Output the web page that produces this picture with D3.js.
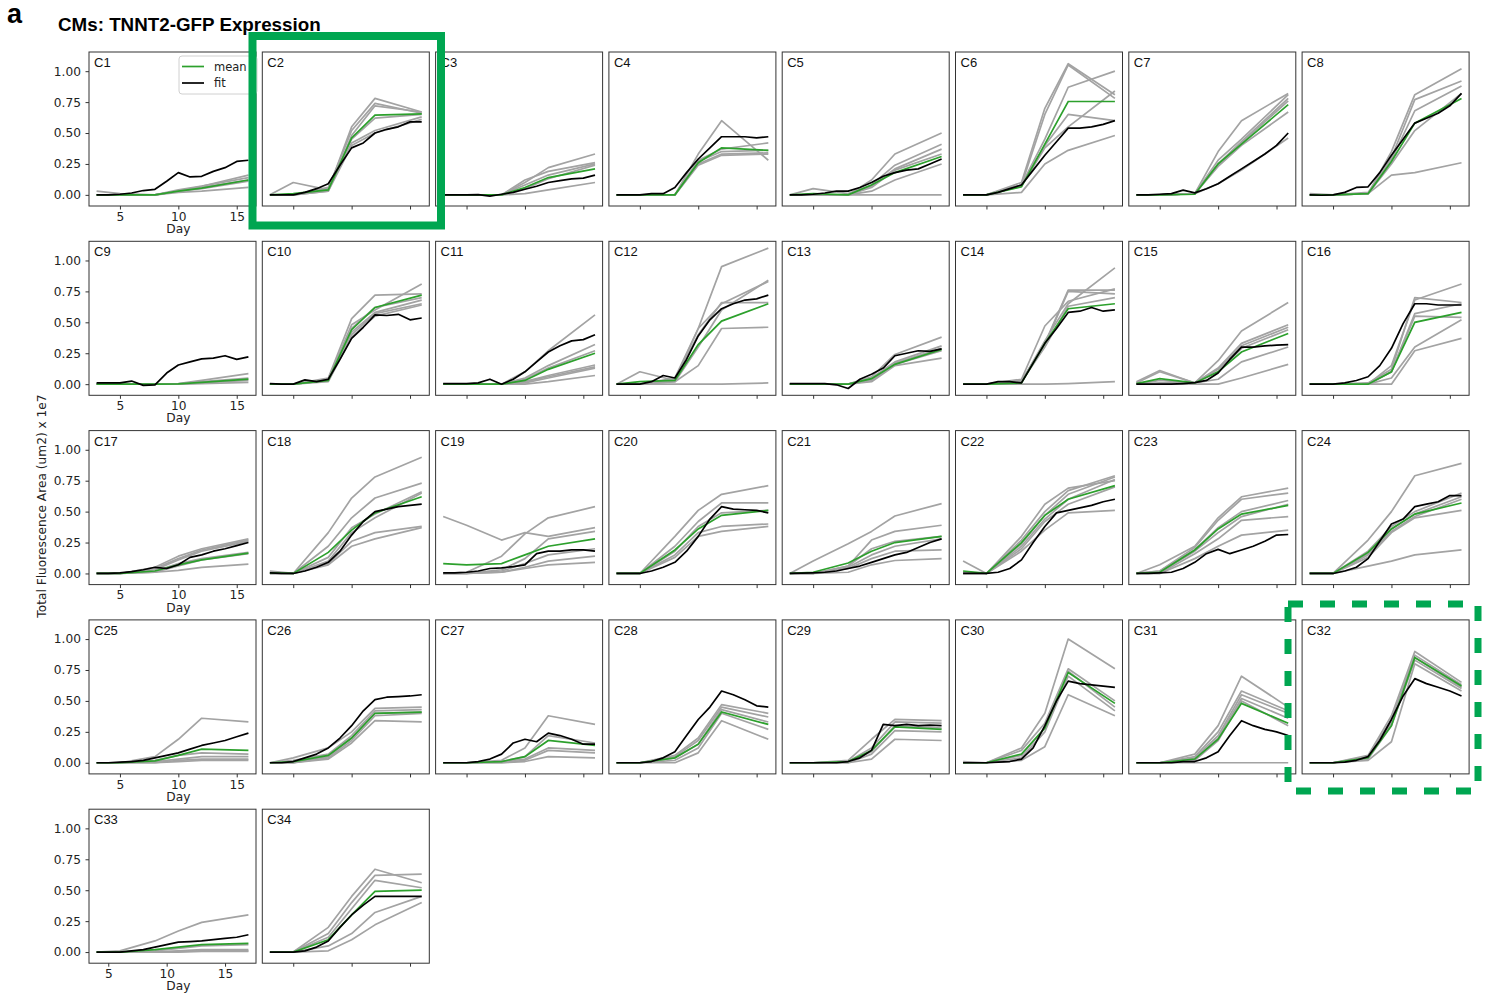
<!DOCTYPE html>
<html>
<head>
<meta charset="utf-8">
<script src="https://cdn.jsdelivr.net/npm/d3@7"></script>
<style>
  body { margin: 0; background: #fff; }
  svg text { font-family: "DejaVu Sans", sans-serif; }
</style>
</head>
<body>
<svg id="chart" width="1489" height="994"></svg>
<script>
// ---- data ----
const panelNames = ["C1","C2","C3","C4","C5","C6","C7","C8","C9","C10","C11","C12","C13","C14","C15","C16",
  "C17","C18","C19","C20","C21","C22","C23","C24","C25","C26","C27","C28","C29","C30","C31","C32","C33","C34"];
const sampleDays = [3, 5, 8, 10, 12, 16];
const fitDays = [3, 4, 5, 6, 7, 8, 9, 10, 11, 12, 13, 14, 15, 16];
const lateStartPanels = ["C33"];   // this clone was imaged from day 4
const xTicks = [5, 10, 15];
const yTicks = [0, 0.25, 0.5, 0.75, 1.0];

// individual replicates (grey), values at sampleDays
const replicates = [
  [[0.03,0.01,0,0.03,0.07,0.16],[0,0,0,0.04,0.07,0.14],[0,0,0,0.03,0.06,0.12],[0,0,0,0.02,0.03,0.06],[0,0,0,0.03,0.05,0.11]],
  [[0,0.10,0.04,0.55,0.78,0.67],[0,0,0.05,0.52,0.74,0.66],[0,0,0.03,0.48,0.72,0.67],[0,0,0.06,0.45,0.62,0.65],[0,0,0.04,0.42,0.52,0.63],[0,0,0.03,0.40,0.50,0.61]],
  [[0,0,0,0.10,0.22,0.33],[0,0,0,0.12,0.19,0.26],[0,0,0,0.08,0.16,0.25],[0,0,0,0.05,0.13,0.24],[0,0,0,0.01,0.04,0.10]],
  [[0,0,0,0.33,0.60,0.28],[0,0,0,0.28,0.37,0.42],[0,0,0,0.27,0.35,0.36],[0,0,0,0.25,0.33,0.34],[0,0,0,0.24,0.32,0.33]],
  [[0,0,0,0.12,0.33,0.50],[0,0.05,0.01,0.08,0.24,0.41],[0,0,0,0.07,0.21,0.37],[0,0,0,0.06,0.20,0.33],[0,0,0,0.03,0.12,0.25],[0,0,0,0,0,0]],
  [[0,0,0.10,0.70,1.06,0.81],[0,0,0.08,0.65,1.05,0.78],[0,0,0.08,0.45,0.87,1.00],[0,0,0.08,0.40,0.65,0.60],[0,0,0.07,0.38,0.55,0.84],[0,0,0.02,0.25,0.36,0.48]],
  [[0,0,0.01,0.35,0.60,0.82],[0,0,0.01,0.28,0.45,0.81],[0,0,0.01,0.25,0.43,0.78],[0,0,0.01,0.24,0.42,0.76],[0,0,0.01,0.23,0.40,0.67],[0,0,0.01,0.09,0.20,0.46]],
  [[0,0,0.01,0.35,0.81,1.02],[0,0,0.01,0.30,0.77,0.92],[0,0,0.02,0.28,0.68,0.88],[0,0,0.01,0.25,0.52,0.82],[0.01,0,0.01,0.16,0.18,0.26]],
  [[0,0,0,0.005,0.03,0.085],[0,0,0,0.002,0.02,0.05],[0,0,0,0,0.01,0.03],[0,0,0,0,0.005,0.015]],
  [[0,0,0.05,0.53,0.72,0.73],[0,0,0.04,0.48,0.60,0.81],[0,0,0.04,0.45,0.62,0.70],[0,0,0.03,0.42,0.58,0.68],[0,0,0.03,0.40,0.57,0.65],[0,0,0.02,0.38,0.55,0.64]],
  [[0,0,0,0.10,0.27,0.56],[0,0,0,0.05,0.15,0.32],[0,0,0,0.04,0.13,0.27],[0,0,0,0.02,0.07,0.155],[0,0,0,0.02,0.06,0.14],[0,0,0,0.01,0.05,0.13],[0,0,0,0,0.02,0.07]],
  [[0,0.10,0.03,0.45,0.95,1.10],[0,0,0.05,0.45,0.65,0.83],[0,0,0.02,0.30,0.60,0.84],[0,0,0.02,0.15,0.45,0.46],[0,0,0,0,0,0.01],[0,0,0.04,0.40,0.66,0.66]],
  [[0,0,0,0.06,0.24,0.38],[0,0,0,0.05,0.18,0.31],[0,0,0,0.04,0.17,0.29],[0,0,0,0.03,0.16,0.27],[0,0,0,0.02,0.15,0.21]],
  [[0,0,0.04,0.47,0.67,0.77],[0,0,0.03,0.33,0.76,0.76],[0,0,0.02,0.32,0.75,0.73],[0,0,0.02,0.35,0.65,0.94],[0,0,0.02,0.30,0.63,0.70],[0,0,0,0,0.005,0.02]],
  [[0.02,0.11,0.01,0.19,0.43,0.66],[0.01,0.10,0.01,0.13,0.33,0.48],[0,0.03,0.01,0.12,0.31,0.46],[0,0.01,0.01,0.10,0.29,0.44],[0,0,0.01,0.04,0.18,0.30],[0,0,0,0,0.05,0.16]],
  [[0,0,0,0.15,0.68,0.81],[0,0,0.01,0.12,0.70,0.66],[0,0,0,0.10,0.57,0.65],[0,0,0,0.10,0.55,0.54],[0,0,0,0.05,0.30,0.52],[0,0,0,0,0.27,0.37]],
  [[0,0,0.05,0.14,0.20,0.28],[0,0,0.04,0.12,0.19,0.27],[0,0,0.03,0.11,0.18,0.26],[0,0,0.02,0.08,0.12,0.17],[0,0,0.01,0.06,0.11,0.16],[0,0,0.01,0.025,0.05,0.075]],
  [[0.02,0,0.33,0.61,0.78,0.94],[0,0,0.22,0.45,0.61,0.73],[0,0,0.13,0.37,0.48,0.66],[0,0,0.10,0.33,0.45,0.65],[0.01,0,0.08,0.26,0.33,0.38],[0,0,0.07,0.22,0.28,0.37]],
  [[0.46,0.39,0.27,0.33,0.30,0.37],[0,0.01,0.14,0.32,0.45,0.54],[0,0,0.03,0.12,0.28,0.34],[0,0,0.02,0.08,0.15,0.20],[0,0,0.01,0.05,0.10,0.14],[0,0,0.01,0.04,0.07,0.09]],
  [[0,0,0.30,0.51,0.64,0.71],[0,0,0.22,0.42,0.57,0.57],[0,0,0.18,0.38,0.49,0.51],[0,0,0.15,0.33,0.38,0.40],[0,0,0.13,0.30,0.34,0.38]],
  [[0,0.10,0.24,0.34,0.465,0.565],[0,0,0.06,0.27,0.34,0.39],[0,0,0.06,0.20,0.26,0.30],[0,0,0.05,0.15,0.22,0.28],[0,0,0.04,0.12,0.18,0.19],[0,0,0.01,0.07,0.105,0.12]],
  [[0.10,0,0.30,0.56,0.69,0.75],[0.01,0,0.27,0.50,0.67,0.79],[0.01,0,0.24,0.47,0.64,0.78],[0,0,0.22,0.44,0.60,0.76],[0,0,0.20,0.42,0.56,0.70],[0,0,0.18,0.35,0.49,0.51]],
  [[0,0.07,0.22,0.45,0.62,0.69],[0,0.02,0.21,0.43,0.60,0.65],[0,0.02,0.19,0.37,0.50,0.59],[0,0.01,0.18,0.33,0.46,0.56],[0,0,0.16,0.28,0.43,0.46],[0,0,0.12,0.22,0.31,0.35]],
  [[0,0,0.27,0.50,0.79,0.89],[0,0,0.18,0.38,0.50,0.65],[0,0,0.16,0.36,0.48,0.62],[0,0,0.15,0.34,0.46,0.60],[0,0,0.13,0.33,0.45,0.51],[0,0,0.06,0.10,0.15,0.19]],
  [[0,0,0.05,0.19,0.36,0.33],[0,0,0.02,0.06,0.08,0.07],[0,0,0.01,0.03,0.05,0.05],[0,0,0,0.02,0.03,0.03],[0,0,0,0.01,0.02,0.02]],
  [[0,0.04,0.12,0.25,0.44,0.45],[0,0.02,0.07,0.22,0.42,0.43],[0,0,0.05,0.20,0.40,0.41],[0,0,0.04,0.18,0.38,0.40],[0,0,0.03,0.16,0.34,0.33]],
  [[0,0,0.02,0.12,0.38,0.31],[0,0,0.01,0.05,0.22,0.16],[0,0,0.01,0.03,0.12,0.10],[0,0,0,0.02,0.10,0.08],[0,0,0,0.01,0.05,0.04]],
  [[0,0,0.06,0.20,0.47,0.40],[0,0,0.05,0.18,0.45,0.37],[0,0,0.04,0.15,0.43,0.33],[0,0,0.02,0.12,0.40,0.27],[0,0,0,0.08,0.34,0.19]],
  [[0,0,0.02,0.19,0.35,0.34],[0,0,0.01,0.12,0.33,0.32],[0,0,0.01,0.09,0.30,0.28],[0,0,0,0.07,0.26,0.25],[0,0,0,0.03,0.19,0.18]],
  [[0,0,0.12,0.40,1.00,0.76],[0.01,0,0.10,0.32,0.76,0.50],[0,0,0.06,0.28,0.74,0.45],[0,0,0.04,0.25,0.70,0.42],[0,0,0.02,0.13,0.55,0.38]],
  [[0,0,0.07,0.30,0.70,0.45],[0,0,0.05,0.25,0.58,0.42],[0,0,0.04,0.22,0.55,0.40],[0,0,0.03,0.20,0.52,0.36],[0,0,0.02,0.18,0.50,0.30],[0,0,0,0,0,0]],
  [[0,0,0.06,0.38,0.90,0.65],[0,0,0.05,0.35,0.87,0.63],[0,0,0.04,0.32,0.85,0.61],[0,0,0.03,0.30,0.83,0.60],[0,0,0.02,0.17,0.80,0.58]],
  [[0,0.01,0.09,0.17,0.24,0.30],[0,0,0.01,0.03,0.05,0.06],[0,0,0,0.01,0.02,0.02],[0,0,0,0.005,0.01,0.01],[0,0,0,0,0.005,0.005]],
  [[0,0,0.20,0.45,0.67,0.56],[0,0,0.15,0.40,0.62,0.63],[0,0,0.12,0.35,0.58,0.52],[0,0,0.05,0.15,0.32,0.45],[0,0,0.01,0.10,0.22,0.40]]
];

// mean of replicates (green), values at sampleDays
const meanValues = [
  [0,0,0,0.03,0.055,0.12],[0,0.01,0.04,0.46,0.645,0.655],[0,0,0,0.06,0.14,0.21],[0,0,0,0.26,0.38,0.36],
  [0,0.01,0,0.08,0.18,0.31],[0,0,0.065,0.41,0.755,0.755],[0,0,0.005,0.25,0.41,0.73],[0,0,0.01,0.27,0.58,0.78],
  [0,0,0,0.002,0.015,0.04],[0,0,0.03,0.44,0.62,0.72],[0,0,0,0.03,0.12,0.25],[0,0.02,0.03,0.32,0.51,0.65],
  [0,0,0,0.045,0.16,0.28],[0,0,0.01,0.33,0.61,0.65],[0.005,0.045,0.01,0.10,0.26,0.41],[0,0,0,0.10,0.50,0.58],
  [0,0,0.02,0.07,0.11,0.165],[0.005,0,0.17,0.35,0.49,0.62],[0.08,0.07,0.08,0.15,0.22,0.28],[0,0,0.19,0.36,0.47,0.51],
  [0,0.01,0.085,0.18,0.25,0.30],[0.02,0,0.25,0.47,0.60,0.71],[0,0.01,0.19,0.36,0.48,0.55],[0,0,0.17,0.36,0.48,0.57],
  [0,0,0.015,0.06,0.11,0.10],[0,0.01,0.06,0.20,0.40,0.41],[0,0,0.01,0.05,0.18,0.14],[0,0,0.04,0.15,0.41,0.31],
  [0,0,0.01,0.10,0.29,0.27],[0,0,0.07,0.28,0.73,0.48],[0,0,0.03,0.19,0.48,0.32],[0,0,0.04,0.30,0.85,0.62],
  [0,0,0.02,0.04,0.06,0.07],[0,0,0.10,0.30,0.49,0.50]
];

// daily fit (black), values at fitDays
const fitValues = [
  [0,0,0.005,0.015,0.035,0.045,0.11,0.18,0.145,0.15,0.19,0.22,0.27,0.28],
  [0,0,0,0.02,0.05,0.09,0.24,0.38,0.42,0.50,0.53,0.55,0.59,0.59],
  [0,0,0,0.002,-0.01,0.005,0.02,0.045,0.07,0.10,0.115,0.13,0.135,0.16],
  [0,0,0,0.01,0.01,0.06,0.18,0.29,0.38,0.47,0.47,0.47,0.46,0.47],
  [0,0,0.005,0.015,0.03,0.03,0.06,0.10,0.15,0.18,0.20,0.21,0.25,0.29],
  [0,0,0,0.02,0.05,0.08,0.20,0.32,0.43,0.54,0.54,0.55,0.57,0.60],
  [0,0,0.005,0.01,0.038,0.016,0.05,0.09,0.15,0.21,0.27,0.33,0.40,0.50],
  [0,-0.003,0,0.02,0.06,0.065,0.18,0.32,0.45,0.58,0.62,0.66,0.72,0.82],
  [0.01,0.01,0.01,0.025,-0.01,-0.005,0.09,0.155,0.18,0.205,0.21,0.23,0.20,0.22],
  [0.005,0,0,0.035,0.02,0.04,0.20,0.37,0.46,0.56,0.555,0.565,0.52,0.535],
  [0.005,0.005,0.005,0.01,0.04,0,0.04,0.10,0.18,0.26,0.31,0.35,0.36,0.40],
  [0,0,0,0.02,0.07,0.05,0.20,0.39,0.52,0.61,0.65,0.68,0.69,0.72],
  [0.005,0.005,0.005,0.005,-0.005,-0.035,0.04,0.08,0.13,0.23,0.25,0.27,0.265,0.285],
  [0,0,0,0.02,0.02,0.01,0.17,0.33,0.45,0.58,0.59,0.62,0.59,0.60],
  [0,0,0,0,0.005,0.012,0.03,0.09,0.20,0.30,0.30,0.31,0.315,0.32],
  [0,0,0,0.01,0.03,0.06,0.15,0.29,0.49,0.65,0.65,0.64,0.64,0.64],
  [0,0,0.005,0.015,0.03,0.05,0.04,0.07,0.13,0.15,0.18,0.20,0.225,0.25],
  [0.005,0,0,0.02,0.05,0.09,0.18,0.31,0.42,0.50,0.52,0.54,0.55,0.56],
  [0.005,0.005,0.01,0.02,0.04,0.045,0.055,0.07,0.16,0.18,0.18,0.19,0.19,0.18],
  [0,0,0,0.02,0.05,0.09,0.18,0.30,0.44,0.54,0.52,0.515,0.51,0.49],
  [0,0.002,0.005,0.01,0.02,0.04,0.06,0.09,0.12,0.15,0.17,0.21,0.25,0.28],
  [0,0,0,0.01,0.04,0.11,0.25,0.38,0.49,0.51,0.53,0.55,0.58,0.60],
  [0,0,0.005,0.01,0.04,0.09,0.16,0.195,0.16,0.19,0.22,0.26,0.31,0.315],
  [0,0,0,0.02,0.05,0.12,0.26,0.40,0.44,0.54,0.56,0.58,0.63,0.63],
  [0,0,0.005,0.01,0.02,0.04,0.06,0.08,0.11,0.14,0.16,0.18,0.21,0.24],
  [0,0,0.01,0.04,0.07,0.12,0.20,0.30,0.42,0.51,0.53,0.535,0.54,0.55],
  [0,0,0,0.01,0.03,0.07,0.16,0.19,0.17,0.24,0.22,0.19,0.15,0.15],
  [0,0,0,0.01,0.04,0.09,0.22,0.35,0.45,0.58,0.55,0.51,0.46,0.45],
  [0,0,0,0,0,0.01,0.04,0.10,0.31,0.30,0.31,0.30,0.305,0.30],
  [0,0,0,0.005,0.01,0.03,0.12,0.30,0.50,0.66,0.64,0.63,0.62,0.61],
  [0,0,0,0,0.01,0.01,0.04,0.09,0.22,0.34,0.30,0.27,0.25,0.22],
  [0,0,0,0.005,0.02,0.05,0.18,0.35,0.54,0.68,0.64,0.61,0.58,0.54],
  [0,0,0,0.01,0.02,0.04,0.06,0.08,0.085,0.09,0.10,0.11,0.12,0.14],
  [0,0,0,0.01,0.04,0.09,0.20,0.30,0.38,0.45,0.45,0.45,0.45,0.45]
];

// ---- layout ----
const svg = d3.select("#chart");
const nCols = 8, panelW = 167, panelH = 154;
const left0 = 89, top0 = 52, stepX = 173.3, stepY = 189.3;
const greyCol = "#a3a3a3", meanCol = "#2ca02c", fitCol = "#000", frameCol = "#333";
const boxGreen = "#00a651";
const sansFont = "'Liberation Sans', Arial, sans-serif";

svg.append("text").attr("x", 7).attr("y", 23)
  .style("font-family", sansFont)
  .attr("font-size", 27).attr("font-weight", "bold").text("a");
svg.append("text").attr("x", 58).attr("y", 31)
  .style("font-family", sansFont)
  .attr("font-size", 18.8).attr("font-weight", "bold").text("CMs: TNNT2-GFP Expression");

svg.append("text")
  .attr("transform", "translate(46,506) rotate(-90)")
  .attr("text-anchor", "middle").attr("font-size", 12.2).attr("fill", "#222")
  .text("Total Fluorescence Area (um2) x 1e7");

panelNames.forEach((name, i) => {
  const col = i % nCols, row = Math.floor(i / nCols);
  const shift = lateStartPanels.includes(name) ? 1 : 0;
  const x = d3.scaleLinear().domain([2.35 + shift, 16.65 + shift]).range([0, panelW]);
  const y = d3.scaleLinear().domain([-0.09, 1.155]).range([panelH, 0]);
  const g = svg.append("g")
    .attr("transform", "translate(" + (left0 + col * stepX) + "," + (top0 + row * stepY) + ")");

  const lineAt = days => d3.line()
    .x((d, k) => x(days[k] + shift))
    .y(d => y(d));

  // x axis (labels only in first column)
  const xa = g.append("g").attr("transform", "translate(0," + panelH + ")")
    .call(d3.axisBottom(x).tickValues(xTicks).tickSize(3.5).tickPadding(2.5)
      .tickFormat(col === 0 ? d3.format("d") : ""));
  xa.select(".domain").remove();
  xa.selectAll("line").attr("stroke", frameCol);
  xa.selectAll("text").attr("font-size", 12.2).attr("fill", "#222")
    .style("font-family", "'DejaVu Sans', sans-serif");

  if (col === 0) {
    const ya = g.append("g")
      .call(d3.axisLeft(y).tickValues(yTicks).tickSize(3.5).tickPadding(4.5).tickFormat(d3.format(".2f")));
    ya.select(".domain").remove();
    ya.selectAll("line").attr("stroke", frameCol);
    ya.selectAll("text").attr("font-size", 12.2).attr("fill", "#222")
      .style("font-family", "'DejaVu Sans', sans-serif");
    g.append("text").attr("x", x(10 + shift)).attr("y", panelH + 27)
      .attr("text-anchor", "middle").attr("font-size", 12.2).attr("fill", "#222").text("Day");
  }

  replicates[i].forEach(rep => {
    g.append("path").datum(rep)
      .attr("fill", "none").attr("stroke", greyCol).attr("stroke-width", 1.7)
      .attr("stroke-linejoin", "round").attr("d", lineAt(sampleDays));
  });
  g.append("path").datum(meanValues[i])
    .attr("fill", "none").attr("stroke", meanCol).attr("stroke-width", 1.7)
    .attr("d", lineAt(sampleDays));
  g.append("path").datum(fitValues[i])
    .attr("fill", "none").attr("stroke", fitCol).attr("stroke-width", 1.7)
    .attr("stroke-linejoin", "round").attr("d", lineAt(fitDays));

  g.append("rect").attr("width", panelW).attr("height", panelH)
    .attr("fill", "none").attr("stroke", frameCol).attr("stroke-width", 1);
  g.append("text").attr("x", 5).attr("y", 15).attr("font-size", 13).attr("fill", "#111")
    .style("font-family", sansFont)
    .text(name);

  if (i === 0) {
    const lg = g.append("g").attr("transform", "translate(90,4)");
    lg.append("rect").attr("width", 78).attr("height", 38).attr("rx", 3)
      .attr("fill", "#fff").attr("fill-opacity", 0.85).attr("stroke", "#d0d0d0");
    [["mean", meanCol], ["fit", fitCol]].forEach(([label, c], k) => {
      lg.append("line").attr("x1", 3).attr("x2", 25).attr("y1", 10.5 + k * 16.5).attr("y2", 10.5 + k * 16.5)
        .attr("stroke", c).attr("stroke-width", 1.7);
      lg.append("text").attr("x", 35).attr("y", 14.5 + k * 16.5).attr("font-size", 11.5).attr("fill", "#222")
        .text(label);
    });
  }
});

// highlight boxes
svg.append("rect").attr("x", 252.5).attr("y", 36).attr("width", 188.5).attr("height", 189.5)
  .attr("fill", "none").attr("stroke", boxGreen).attr("stroke-width", 8);
svg.append("rect").attr("x", 1288).attr("y", 604).attr("width", 190).attr("height", 187)
  .attr("fill", "none").attr("stroke", boxGreen).attr("stroke-width", 7)
  .attr("stroke-dasharray", "15,17");
</script>
</body>
</html>
